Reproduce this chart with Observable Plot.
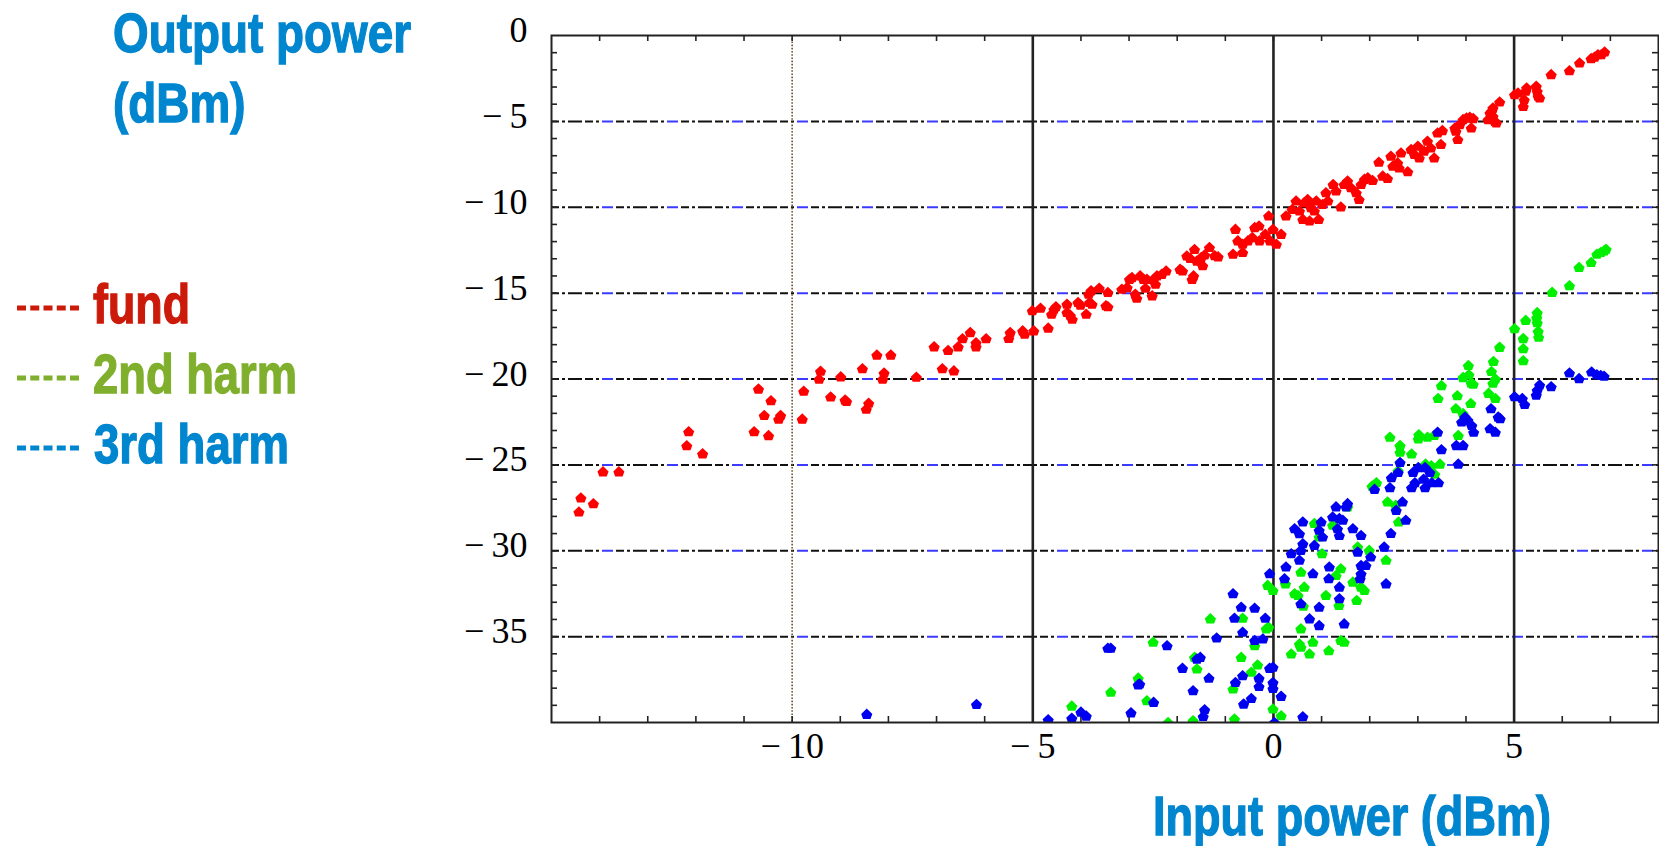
<!DOCTYPE html>
<html><head><meta charset="utf-8">
<script src="https://cdn.jsdelivr.net/npm/d3@7"></script>
<script src="https://cdn.jsdelivr.net/npm/@observablehq/plot@0.6"></script>
<style>
html,body{margin:0;padding:0;background:#fff;}
#wrap{position:relative;width:1659px;height:846px;overflow:hidden;background:#fff;}
.lbl{position:absolute;font-family:"Liberation Sans",Arial,sans-serif;font-weight:bold;font-size:56px;line-height:70px;white-space:nowrap;transform-origin:0 0;-webkit-text-stroke:1.3px currentColor;}
#chart{position:absolute;left:450px;top:0;}
.dash{position:absolute;}
</style></head><body>
<div id="wrap">
  <div class="lbl" data-w="298" style="left:113px;top:-2px;color:#0085cf">Output power<br>(dBm)</div>
  <svg class="dash" style="left:17px;top:302px" width="62" height="12"><line x1="0" y1="6" x2="62" y2="6" stroke="#cc1a0a" stroke-width="5" stroke-dasharray="9 4.25"/></svg>
  <svg class="dash" style="left:17px;top:372px" width="62" height="12"><line x1="0" y1="6" x2="62" y2="6" stroke="#7faf2c" stroke-width="5" stroke-dasharray="9 4.25"/></svg>
  <svg class="dash" style="left:17px;top:442px" width="62" height="12"><line x1="0" y1="6" x2="62" y2="6" stroke="#0085cf" stroke-width="5" stroke-dasharray="9 4.25"/></svg>
  <div class="lbl" data-w="97" style="left:93px;top:269px;color:#cc1a0a">fund</div>
  <div class="lbl" data-w="204" style="left:93px;top:339px;color:#7faf2c">2nd harm</div>
  <div class="lbl" data-w="195" style="left:94px;top:409px;color:#0085cf">3rd harm</div>
  <div class="lbl" data-w="398" style="left:1153px;top:781px;color:#0085cf">Input power (dBm)</div>
  <div id="chart"></div>
</div>
<script>
// ---- data ----
const fund = [
[-14.43,-27.75],[-14.39,-26.93],[-14.13,-27.27],[-13.93,-25.41],[-13.6,-25.41],
[-12.15,-23.07],[-12.19,-23.89],[-11.86,-24.36],
[-10.7,-20.59],[-10.44,-21.27],[-10.58,-22.13],[-10.24,-22.13],[-10.28,-22.34],[-10.79,-23.07],[-10.49,-23.3],
[-9.76,-20.72],[-9.79,-22.34],[-9.41,-19.55],[-9.44,-20.02],[-9.2,-21.05],[-8.99,-19.88],[-8.9,-21.23],[-8.87,-21.31],
[-8.54,-19.41],[-8.24,-18.61],[-7.95,-18.61],[-8.09,-19.65],[-8.12,-20.02],[-8.41,-21.41],[-8.46,-21.76],[-7.42,-19.9],
[-7.05,-18.13],[-6.88,-19.41],[-6.64,-19.53],[-6.76,-18.34],[-6.55,-18.13],[-6.46,-17.66],[-6.3,-17.3],[-6.18,-17.89],
[-6.18,-18.13],[-5.97,-17.66],[-5.5,-17.64],[-5.47,-17.3],[-5.21,-17.2],[-5.17,-17.4],
[-4.98,-17.2],[-5.01,-16.03],[-4.84,-15.88],[-4.68,-17.04],[-4.56,-15.94],[-4.52,-15.8],[-4.61,-16.23],[-4.29,-15.65],
[-4.29,-16.13],[-4.18,-16.52],[-4.22,-16.3],[-4.06,-15.55],[-4.01,-15.7],[-3.89,-16.23],[-3.82,-15.55],[-3.77,-15.65],
[-3.84,-15.07],[-3.79,-14.87],[-3.62,-14.72],[-3.44,-14.97],[-3.48,-15.74],[-3.44,-15.8],[-3.15,-14.78],[-3.04,-14.68],
[-2.99,-14.2],[-2.94,-14.1],[-2.87,-15.07],[-2.84,-15.3],[-2.77,-14.0],[-2.7,-14.2],[-2.66,-14.72],[-2.63,-14.2],
[-2.52,-15.16],[-2.49,-14.2],[-2.45,-14.49],[-2.42,-14.0],[-2.32,-13.91],[-2.23,-13.71],[-1.94,-13.62],[-1.89,-13.71],
[-1.8,-12.84],[-1.73,-12.98],[-1.69,-14.2],[-1.66,-14.0],[-1.64,-12.46],[-1.59,-13.14],
[-1.5,-12.93],[-1.43,-12.78],[-1.33,-12.35],[-1.22,-12.83],[-1.15,-12.89],[-1.47,-13.41],[-0.84,-12.74],[-0.79,-11.29],
[-0.74,-11.96],[-0.64,-12.64],[-0.64,-12.16],[-0.53,-11.96],[-0.44,-11.77],[-0.39,-11.19],[-0.3,-11.09],[-0.29,-11.96],
[-0.17,-11.58],[-0.1,-10.51],[-0.07,-11.96],[-0.01,-11.29],[0.06,-12.16],[0.16,-11.58],[0.26,-10.51],[0.39,-10.13],
[0.47,-9.64],[0.54,-10.22],[0.61,-10.71],[0.64,-9.74],[0.71,-9.55],[0.75,-10.8],[0.78,-10.03],[0.85,-10.22],
[0.89,-9.64],[0.94,-10.71],[1.02,-9.84],[1.09,-9.16],[1.13,-9.64],[1.24,-8.68],[1.3,-9.06],[1.4,-9.99],
[1.47,-8.68],[1.54,-8.48],[1.61,-8.87],[1.72,-9.16],[1.78,-9.55],[1.82,-8.68],[1.89,-8.38],[1.96,-8.29],
[2.06,-8.44],[2.19,-7.38],[2.27,-8.19],[2.37,-8.33],[2.44,-7.03],[2.48,-7.61],[2.58,-7.42],[2.61,-7.71],
[2.65,-6.84],[2.79,-7.94],[2.86,-6.64],[2.93,-6.93],[3.0,-6.45],[3.03,-7.13],[3.13,-6.74],[3.2,-6.16],
[3.27,-6.55],[3.34,-7.13],[3.41,-5.68],[3.48,-6.35],[3.51,-5.54],[3.77,-5.39],[3.79,-5.58],[3.83,-6.06],
[3.87,-5.19],[3.94,-4.9],[4.01,-4.81],[4.08,-4.77],[4.11,-5.39],[4.15,-4.84],[4.46,-4.9],[4.5,-4.51],
[4.53,-4.42],[4.56,-4.71],[4.56,-4.22],[4.6,-5.0],[4.63,-5.1],[4.7,-3.87],[5.01,-3.45],[5.08,-3.35],
[5.19,-4.13],[5.21,-3.74],[5.24,-3.25],[5.26,-3.06],[5.46,-2.96],[5.48,-3.25],[5.5,-3.54],[5.53,-3.64],
[5.77,-2.28],[6.15,-2.05],[6.36,-1.6],[6.6,-1.35],[6.67,-1.27],[6.74,-1.12],[6.81,-1.12],[6.88,-0.96]
];
const harm2 = [
[6.91,-12.45],[6.87,-12.54],[6.8,-12.64],[6.72,-12.74],[6.6,-13.22],[6.35,-13.51],[6.15,-14.57],[5.79,-14.96],
[5.48,-16.14],[5.47,-16.43],[5.48,-16.73],[5.5,-17.22],[5.51,-17.57],[5.24,-16.59],[5.01,-17.08],[5.19,-17.65],
[5.19,-18.24],[5.19,-18.94],[4.7,-18.16],[4.57,-18.98],[4.53,-19.57],[4.61,-20.0],[4.56,-20.25],[4.47,-20.84],
[4.61,-21.14],[4.05,-19.22],[3.94,-19.92],[4.06,-19.76],[4.11,-20.25],[4.15,-20.31],[3.49,-20.39],[3.82,-20.98],
[3.42,-21.14],[4.1,-21.43],[3.79,-21.73],[3.94,-22.02],[3.84,-23.29],[2.42,-23.39],[2.63,-23.88],[2.63,-24.27],
[2.87,-24.37],[3.02,-23.25],[3.01,-23.49],[3.2,-23.39],[3.34,-23.29],[3.16,-24.96],[3.28,-25.06],[3.46,-24.96],
[2.59,-25.35],[2.14,-26.04],[2.05,-26.24],[3.35,-25.55],
[2.37,-27.16],[2.54,-27.35],[2.6,-28.33],[1.54,-27.45],[0.85,-28.42],[1.23,-28.52],[0.95,-29.2],[1.01,-30.18],
[1.4,-31.05],[1.3,-31.44],[1.65,-31.83],[1.75,-29.79],[1.99,-29.98],[2.34,-30.56],[1.82,-32.12],[1.89,-32.32],
[1.73,-32.9],[0.57,-31.25],[0.64,-32.12],[0.25,-31.93],[0.44,-32.51],[0.51,-32.61],[1.09,-32.61],[1.36,-33.19],
[0.62,-33.23],[-0.12,-32.02],[-0.01,-32.32],[-0.15,-34.55],[-0.1,-34.46],[0.57,-34.55],[0.54,-35.43],[0.57,-35.62],
[0.82,-35.33],[0.37,-36.01],[0.75,-36.01],[1.15,-35.82],[1.4,-35.23],[1.47,-35.33],[-0.64,-33.93],[-0.39,-35.53],
[-0.67,-36.21],[-0.33,-36.65],[-0.46,-37.08],[-0.84,-38.05],[-1.31,-33.97],[-1.64,-36.21],[-1.59,-36.89],[-2.5,-35.33],
[-2.63,-38.74],[-2.19,-40.0],[-1.67,-39.9],[-0.81,-39.8],[-0.01,-39.22],[0.16,-39.61],
[-3.38,-38.24],[-2.81,-37.42],[-4.19,-39.05]
];
const harm3 = [
[6.15,-19.65],[6.35,-19.98],[6.61,-19.59],[6.72,-19.75],[6.8,-19.8],[6.87,-19.84],
[5.77,-20.45],[5.53,-20.35],[5.48,-20.65],[5.46,-20.94],[5.01,-21.04],[5.17,-21.14],[5.22,-21.49],[4.52,-21.73],
[4.67,-22.22],[4.71,-22.31],[4.5,-22.9],[4.61,-23.1],[3.98,-22.22],[4.04,-22.41],[4.12,-22.71],[4.16,-23.1],
[3.91,-22.51],[3.41,-23.1],[3.49,-24.12],[3.8,-23.88],[3.94,-23.88],[3.84,-24.96],[2.63,-24.86],[3.01,-25.16],
[3.15,-25.16],[3.25,-25.45],[2.9,-25.45],[2.59,-25.45],[2.45,-25.75],[2.94,-26.04],[3.12,-25.84],[3.29,-26.04],
[3.43,-26.04],[2.42,-26.33],[2.87,-26.33],[2.1,-26.43],[3.15,-26.33],
[2.68,-27.16],[2.55,-27.65],[2.75,-28.23],[2.44,-29.0],[2.3,-29.79],[2.34,-31.93],[1.54,-27.26],[1.51,-27.45],
[1.3,-27.45],[1.23,-28.04],[1.37,-28.13],[1.44,-28.23],[1.33,-28.72],[1.37,-29.11],[1.65,-28.72],[1.82,-29.11],
[0.99,-28.33],[0.95,-28.81],[1.02,-29.2],[0.61,-28.33],[0.44,-28.72],[0.54,-29.01],[0.85,-29.69],[0.61,-29.59],
[0.57,-29.98],[0.37,-30.18],[0.54,-30.56],[0.26,-30.95],[0.23,-31.63],[0.82,-31.34],[1.16,-30.95],[1.15,-31.63],
[1.37,-32.12],[1.37,-32.8],[1.82,-30.86],[1.92,-30.86],[1.75,-30.08],[2.02,-30.37],[1.82,-31.34],[1.8,-31.63],
[0.57,-33.09],[0.95,-33.29],[0.75,-33.97],[0.95,-34.36],[1.47,-34.26],[-0.08,-31.34],[-0.84,-32.51],[-0.67,-33.29],
[-0.39,-33.35],[-0.81,-33.93],[-0.17,-33.93],[-0.64,-34.75],[-0.39,-35.23],[-0.22,-35.14],[-1.18,-35.08],[-2.21,-35.53],
[-1.59,-36.31],[-1.52,-36.21],[-1.89,-36.85],[-1.34,-37.43],[-1.67,-38.15],[-0.79,-37.67],[-0.64,-37.28],[-0.46,-38.6],
[-0.62,-38.93],[-0.3,-37.43],[-0.3,-37.9],[-0.08,-36.85],[-0.01,-36.79],[-0.01,-37.67],[-0.01,-38.02],[0.16,-38.48],
[-1.43,-39.26],[-1.46,-39.65],[-2.49,-38.83],[-2.78,-37.76],[0.02,-40.0],[0.61,-39.67],
[-8.45,-39.53],[-6.17,-38.95],[-4.68,-39.84],[-4.19,-39.75],[-4.0,-39.4],[-3.89,-39.63],[-3.44,-35.68],[-3.38,-35.68],
[-2.96,-39.44],[-2.81,-37.81]
];
const xDomain = [-15, 8];
const yDomain = [-40, 0];
const xTickLabels = [-10, -5, 0, 5];
const yTickLabels = [0, -5, -10, -15, -20, -25, -30, -35];
const hGrid = [-5, -10, -15, -20, -25, -30, -35];
const vGridDotted = [-10];
const vGridSolid = [-5, 0, 5];
const xMinor = d3.range(-14, 8);
const yMinor = d3.range(-39, 0);

// ---- condense the label font to the reference widths ----
document.querySelectorAll(".lbl").forEach(el => {
  const target = +el.dataset.w;
  const w = el.getBoundingClientRect().width;
  if (w > 0) el.style.transform = `scaleX(${target / w})`;
});

// ---- layout ----
const W = 1209, H = 780, mL = 101, mR = 1, mT = 35, mB = 58;
const innerW = W - mL - mR, innerH = H - mT - mB;
const house = {
  draw(ctx, size) {
    const r = Math.sqrt(size / Math.PI);
    ctx.moveTo(0, -r * 1.1);
    ctx.lineTo(r * 1.05, -r * 0.1);
    ctx.lineTo(r * 0.7, r * 0.85);
    ctx.lineTo(-r * 0.7, r * 0.85);
    ctx.lineTo(-r * 1.05, -r * 0.1);
    ctx.closePath();
  }
};
const fmt = d => d < 0 ? "\u2212\u2009" + (-d) : String(d);
const tickStyle = {stroke: "#222", strokeWidth: 1.6};

const chart = Plot.plot({
  width: W, height: H,
  marginLeft: mL, marginRight: mR, marginTop: mT, marginBottom: mB,
  x: {domain: xDomain},
  y: {domain: yDomain},
  style: {fontFamily: "'Liberation Serif','Times New Roman',serif", fontSize: "36px", color: "#000", background: "transparent", overflow: "visible"},
  marks: [
    Plot.ruleY(hGrid, {stroke: "#111", strokeWidth: 2, strokeDasharray: "8 3 3 3 14 3 8 3 3 17"}),
    Plot.ruleY(hGrid, {stroke: "#3b3bff", strokeWidth: 2, strokeDasharray: "11 54", strokeDashoffset: 14}),
    Plot.ruleX(vGridDotted, {stroke: "#6b5633", strokeWidth: 1.6, strokeDasharray: "1.6 1.6"}),
    Plot.ruleX(vGridSolid, {stroke: "#222", strokeWidth: 2.6}),
    Plot.ruleX(xMinor, {...tickStyle, insetTop: innerH - 6}),
    Plot.ruleX(xMinor, {...tickStyle, insetBottom: innerH - 6}),
    Plot.ruleY(yMinor, {...tickStyle, insetRight: innerW - 6}),
    Plot.ruleY(yMinor, {...tickStyle, insetLeft: innerW - 6}),
    Plot.dot(fund, {x: d => d[0], y: d => d[1], symbol: house, r: 5.3, fill: "#ff0000", stroke: "none", clip: true}),
    Plot.dot(harm2, {x: d => d[0], y: d => d[1], symbol: house, r: 5.3, fill: "#00f000", stroke: "none", clip: true}),
    Plot.dot(harm3, {x: d => d[0], y: d => d[1], symbol: house, r: 5.3, fill: "#0000f0", stroke: "none", clip: true}),
    Plot.frame({stroke: "#222", strokeWidth: 2}),
    Plot.axisX({ticks: xTickLabels, tickSize: 0, tickPadding: 10, tickFormat: fmt, fontSize: 36, label: null}),
    Plot.axisY({ticks: yTickLabels, tickSize: 0, tickPadding: 24, tickFormat: fmt, fontSize: 36, dy: -5, label: null})
  ]
});
document.getElementById("chart").appendChild(chart);
</script>
</body></html>
